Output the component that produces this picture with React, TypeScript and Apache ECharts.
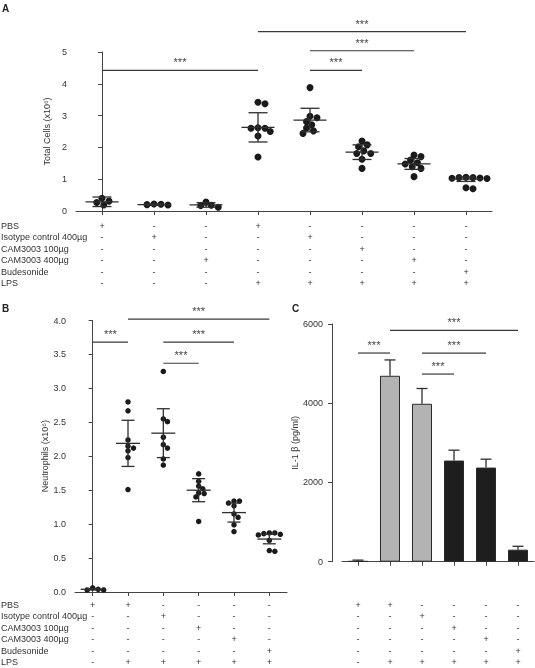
import React, { useEffect, useRef } from "react";
import * as echarts from "echarts";

const FONT = "'Liberation Sans', Arial, sans-serif";
const TXT = "#333";
const AX = "#444";

const rowNames = ["PBS", "Isotype control 400µg", "CAM3003 100µg", "CAM3003 400µg", "Budesonide", "LPS"];

// treatment table (rows x groups)
const treatA = [
  ["+", "-", "-", "+", "-", "-", "-", "-"],
  ["-", "+", "-", "-", "+", "-", "-", "-"],
  ["-", "-", "-", "-", "-", "+", "-", "-"],
  ["-", "-", "+", "-", "-", "-", "+", "-"],
  ["-", "-", "-", "-", "-", "-", "-", "+"],
  ["-", "-", "-", "+", "+", "+", "+", "+"],
];
const treatBC = [
  ["+", "+", "-", "-", "-", "-"],
  ["-", "-", "+", "-", "-", "-"],
  ["-", "-", "-", "+", "-", "-"],
  ["-", "-", "-", "-", "+", "-"],
  ["-", "-", "-", "-", "-", "+"],
  ["-", "+", "+", "+", "+", "+"],
];

// Panel A: total cells (x10^6)
const pointsA = [
  [0.31, 0.19, 0.27, 0.4],
  [0.21, 0.19, 0.2, 0.22],
  [0.18, 0.12, 0.17, 0.28],
  [3.37, 3.42, 2.6, 2.5, 2.36, 2.6, 2.62, 1.7],
  [3.88, 2.93, 2.98, 2.81, 2.61, 2.71, 2.44, 2.52],
  [2.2, 2.02, 2.08, 1.81, 1.81, 1.89, 1.63, 1.34],
  [1.76, 1.6, 1.71, 1.48, 1.39, 1.52, 1.34, 1.08],
  [1.05, 1.06, 1.02, 1.04, 1.05, 1.03, 0.7, 0.73],
];
const meanA = [0.29, 0.2, 0.19, 2.63, 2.86, 1.85, 1.48, 1.0];
const sdA = [0.15, 0.02, 0.07, 0.46, 0.37, 0.23, 0.17, 0.07];
const sigA = [
  [0, 3, 4.42],
  [3, 7, 5.64],
  [4, 6, 5.04],
  [4, 5, 4.42],
];

// Panel B: neutrophils (x10^6)
const pointsB = [
  [0.04, 0.03, 0.03, 0.06],
  [2.8, 2.67, 2.24, 2.12, 2.08, 2.15, 1.98, 1.51],
  [3.25, 2.55, 2.51, 2.28, 2.17, 2.12, 1.96, 1.87],
  [1.74, 1.63, 1.56, 1.52, 1.45, 1.4, 1.46, 1.04],
  [1.34, 1.27, 1.31, 1.34, 1.15, 1.1, 0.99, 0.89],
  [0.87, 0.86, 0.85, 0.87, 0.84, 0.76, 0.6, 0.61],
];
const meanB = [0.04, 2.19, 2.34, 1.5, 1.17, 0.78];
const sdB = [0.01, 0.34, 0.36, 0.17, 0.14, 0.07];
const sigB = [
  [0, 1, 3.68],
  [1, 5, 4.02],
  [2, 4, 3.68],
  [2, 3, 3.37],
];

// Panel C: IL-1 beta (pg/ml)
const il1b = [15, 4693, 3986, 2553, 2376, 303];
const il1bErr = [25, 400, 386, 262, 212, 86];
const barFill = ["#1e1e1e", "#b3b3b3", "#b3b3b3", "#1e1e1e", "#1e1e1e", "#1e1e1e"];
const sigC = [
  [1, 5, 5838],
  [0, 1, 5267],
  [2, 4, 5267],
  [2, 3, 4736],
];

// layout
const GA = { left: 76, top: 52, width: 416, height: 159 };
const GB = { left: 75, top: 320.5, width: 212, height: 271.5 };
const GC = { left: 342, top: 324, width: 192, height: 237.7 };
const LH = 11.5;
const MARGIN_A = 9;
const MARGIN_B = 7;
const C_XOFFSET = 28.3;
const MARGIN_C = GB.top + GB.height + MARGIN_B - (GC.top + GC.height + C_XOFFSET);

function swarm(vals: number[], pxY: number, pxCat: number, d: number): number[] {
  const order = vals.map((_, i) => i).sort((a, b) => vals[b] - vals[a]);
  const placed: { x: number; y: number }[] = [];
  const res: number[] = new Array(vals.length).fill(0);
  for (const i of order) {
    const y = vals[i] * pxY;
    for (let k = 0; k < 80; k++) {
      const cand = k === 0 ? 0 : (k % 2 ? 1 : -1) * Math.ceil(k / 2) * d * 0.25;
      const ok = placed.every((p) => Math.hypot(p.x - cand, p.y - y) >= d * 0.86);
      if (ok) {
        placed.push({ x: cand, y });
        res[i] = cand / pxCat;
        break;
      }
    }
  }
  return res;
}

function scatterData(points: number[][], pxY: number, pxCat: number, d: number) {
  const out: number[][] = [];
  points.forEach((vals, g) => {
    const offs = swarm(vals, pxY, pxCat, d);
    vals.forEach((v, i) => out.push([g + offs[i], v]));
  });
  return out;
}

function meanSeries(xi: number, yi: number, mean: number[], sd: number[], hw: number, cw: number) {
  return {
    type: "custom",
    xAxisIndex: xi,
    yAxisIndex: yi,
    clip: false,
    z: 5,
    data: mean.map((m, i) => [i, m, sd[i]]),
    renderItem: (_p: any, api: any) => {
      const x = api.value(0), m = api.value(1), s = api.value(2);
      const c = api.coord([x, m]);
      const t = api.coord([x, m + s]);
      const b = api.coord([x, m - s]);
      const st = { stroke: "#2e2e2e", lineWidth: 1.3 };
      return {
        type: "group",
        children: [
          { type: "line", shape: { x1: c[0] - hw, y1: c[1], x2: c[0] + hw, y2: c[1] }, style: st },
          { type: "line", shape: { x1: c[0], y1: t[1], x2: c[0], y2: b[1] }, style: st },
          { type: "line", shape: { x1: c[0] - cw, y1: t[1], x2: c[0] + cw, y2: t[1] }, style: st },
          { type: "line", shape: { x1: c[0] - cw, y1: b[1], x2: c[0] + cw, y2: b[1] }, style: st },
        ],
      };
    },
  };
}

function sigSeries(xi: number, yi: number, sig: number[][]) {
  return {
    type: "custom",
    xAxisIndex: xi,
    yAxisIndex: yi,
    clip: false,
    z: 5,
    data: sig,
    renderItem: (_p: any, api: any) => {
      const y = api.value(2);
      const a = api.coord([api.value(0), y]);
      const b = api.coord([api.value(1), y]);
      return {
        type: "group",
        children: [
          { type: "line", shape: { x1: a[0], y1: a[1], x2: b[0], y2: b[1] }, style: { stroke: "#3a3a3a", lineWidth: 1.2 } },
          {
            type: "text",
            style: {
              text: "***",
              x: (a[0] + b[0]) / 2,
              y: a[1] - 8,
              align: "center",
              verticalAlign: "middle",
              fontSize: 11,
              fontFamily: FONT,
              fill: "#444",
            },
          },
        ],
      };
    },
  };
}

function catAxis(grid: number, n: number, treat: string[][], margin: number, offset = 0) {
  return {
    type: "category",
    gridIndex: grid,
    data: Array.from({ length: n }, (_, i) => String(i)),
    offset,
    boundaryGap: true,
    axisLine: { show: true, lineStyle: { color: AX, width: 1 } },
    axisTick: { show: true, alignWithLabel: true, length: 4, lineStyle: { color: AX } },
    axisLabel: {
      interval: 0,
      margin,
      lineHeight: LH,
      fontSize: 9,
      fontFamily: FONT,
      color: TXT,
      formatter: (_v: string, i: number) => treat.map((r) => r[i]).join("\n"),
    },
    splitLine: { show: false },
  };
}

function valAxis(grid: number, min: number, max: number, interval: number, name: string, nameGap: number, fmt: (v: number) => string, offset = 0) {
  return {
    type: "value",
    gridIndex: grid,
    min,
    max,
    interval,
    offset,
    name,
    nameLocation: "middle",
    nameGap,
    nameTextStyle: { fontSize: 9, fontFamily: FONT, color: TXT },
    axisLine: { show: true, lineStyle: { color: AX, width: 1 } },
    axisTick: { show: true, length: 4, lineStyle: { color: AX } },
    axisLabel: { fontSize: 9, fontFamily: FONT, color: TXT, margin: 9, formatter: fmt },
    splitLine: { show: false },
  };
}

function rowLabels(axisY: number, margin: number) {
  return rowNames.map((t, k) => ({
    type: "text",
    x: 1,
    y: axisY + margin + LH * (k + 0.5),
    style: { text: t, fontSize: 9, fontFamily: FONT, fill: TXT, verticalAlign: "middle", align: "left" },
  }));
}

export default function App() {
  const ref = useRef<HTMLDivElement>(null);
  useEffect(() => {
    if (!ref.current) return;
    const chart = echarts.init(ref.current, undefined, { renderer: "svg" });
    const dA = scatterData(pointsA, GA.height / 5, GA.width / 8, 7);
    const dB = scatterData(pointsB, GB.height / 4, GB.width / 6, 5.5);
    const option: any = {
      animation: false,
      backgroundColor: "#fff",
      textStyle: { fontFamily: FONT },
      grid: [
        { ...GA, containLabel: false },
        { ...GB, containLabel: false },
        { ...GC, containLabel: false },
      ],
      xAxis: [
        catAxis(0, 8, treatA, MARGIN_A),
        { type: "value", gridIndex: 0, min: -0.5, max: 7.5, show: false },
        catAxis(1, 6, treatBC, MARGIN_B),
        { type: "value", gridIndex: 1, min: -0.5, max: 5.5, show: false },
        catAxis(2, 6, treatBC, MARGIN_C, C_XOFFSET),
      ],
      yAxis: [
        valAxis(0, 0, 5, 1, "Total Cells (x10⁶)", 20, (v: number) => String(v)),
        valAxis(1, 0, 4, 0.5, "Neutrophils (x10⁶)", 26, (v: number) => v.toFixed(1)),
        valAxis(2, 0, 6000, 2000, "IL-1 β (pg/ml)", 25, (v: number) => String(v), 10),
      ],
      graphic: [
        { type: "text", x: 2, y: 3, style: { text: "A", fontSize: 10, fontWeight: "bold", fontFamily: FONT, fill: "#222" } },
        { type: "text", x: 2, y: 303, style: { text: "B", fontSize: 10, fontWeight: "bold", fontFamily: FONT, fill: "#222" } },
        { type: "text", x: 292, y: 303, style: { text: "C", fontSize: 10, fontWeight: "bold", fontFamily: FONT, fill: "#222" } },
        ...rowLabels(GA.top + GA.height, MARGIN_A),
        ...rowLabels(GB.top + GB.height, MARGIN_B),
      ],
      series: [
        {
          type: "scatter",
          xAxisIndex: 1,
          yAxisIndex: 0,
          symbolSize: 7,
          itemStyle: { color: "#1a1a1a", opacity: 1 },
          data: dA,
          z: 3,
        },
        meanSeries(1, 0, meanA, sdA, 16.5, 9.5),
        sigSeries(1, 0, sigA),
        {
          type: "scatter",
          xAxisIndex: 3,
          yAxisIndex: 1,
          symbolSize: 5.5,
          itemStyle: { color: "#1a1a1a", opacity: 1 },
          data: dB,
          z: 3,
        },
        meanSeries(3, 1, meanB, sdB, 12, 6.5),
        sigSeries(3, 1, sigB),
        {
          type: "bar",
          xAxisIndex: 4,
          yAxisIndex: 2,
          barWidth: 20,
          data: il1b.map((v, i) => ({
            value: v,
            itemStyle: { color: barFill[i], borderColor: "#2a2a2a", borderWidth: 1 },
          })),
        },
        {
          type: "custom",
          xAxisIndex: 4,
          yAxisIndex: 2,
          clip: false,
          z: 5,
          data: il1b.map((v, i) => [i, v, il1bErr[i]]),
          renderItem: (_p: any, api: any) => {
            const x = api.value(0), m = api.value(1), s = api.value(2);
            const b = api.coord([x, m]);
            const t = api.coord([x, m + s]);
            const st = { stroke: "#2e2e2e", lineWidth: 1.3 };
            return {
              type: "group",
              children: [
                { type: "line", shape: { x1: b[0], y1: b[1], x2: b[0], y2: t[1] }, style: st },
                { type: "line", shape: { x1: b[0] - 5.5, y1: t[1], x2: b[0] + 5.5, y2: t[1] }, style: st },
              ],
            };
          },
        },
        sigSeries(4, 2, sigC),
      ],
    };
    chart.setOption(option);
    return () => chart.dispose();
  }, []);
  return (
    <div
      ref={ref}
      style={{ position: "absolute", left: 0, top: 0, width: 535, height: 668, willChange: "transform" }}
    />
  );
}
